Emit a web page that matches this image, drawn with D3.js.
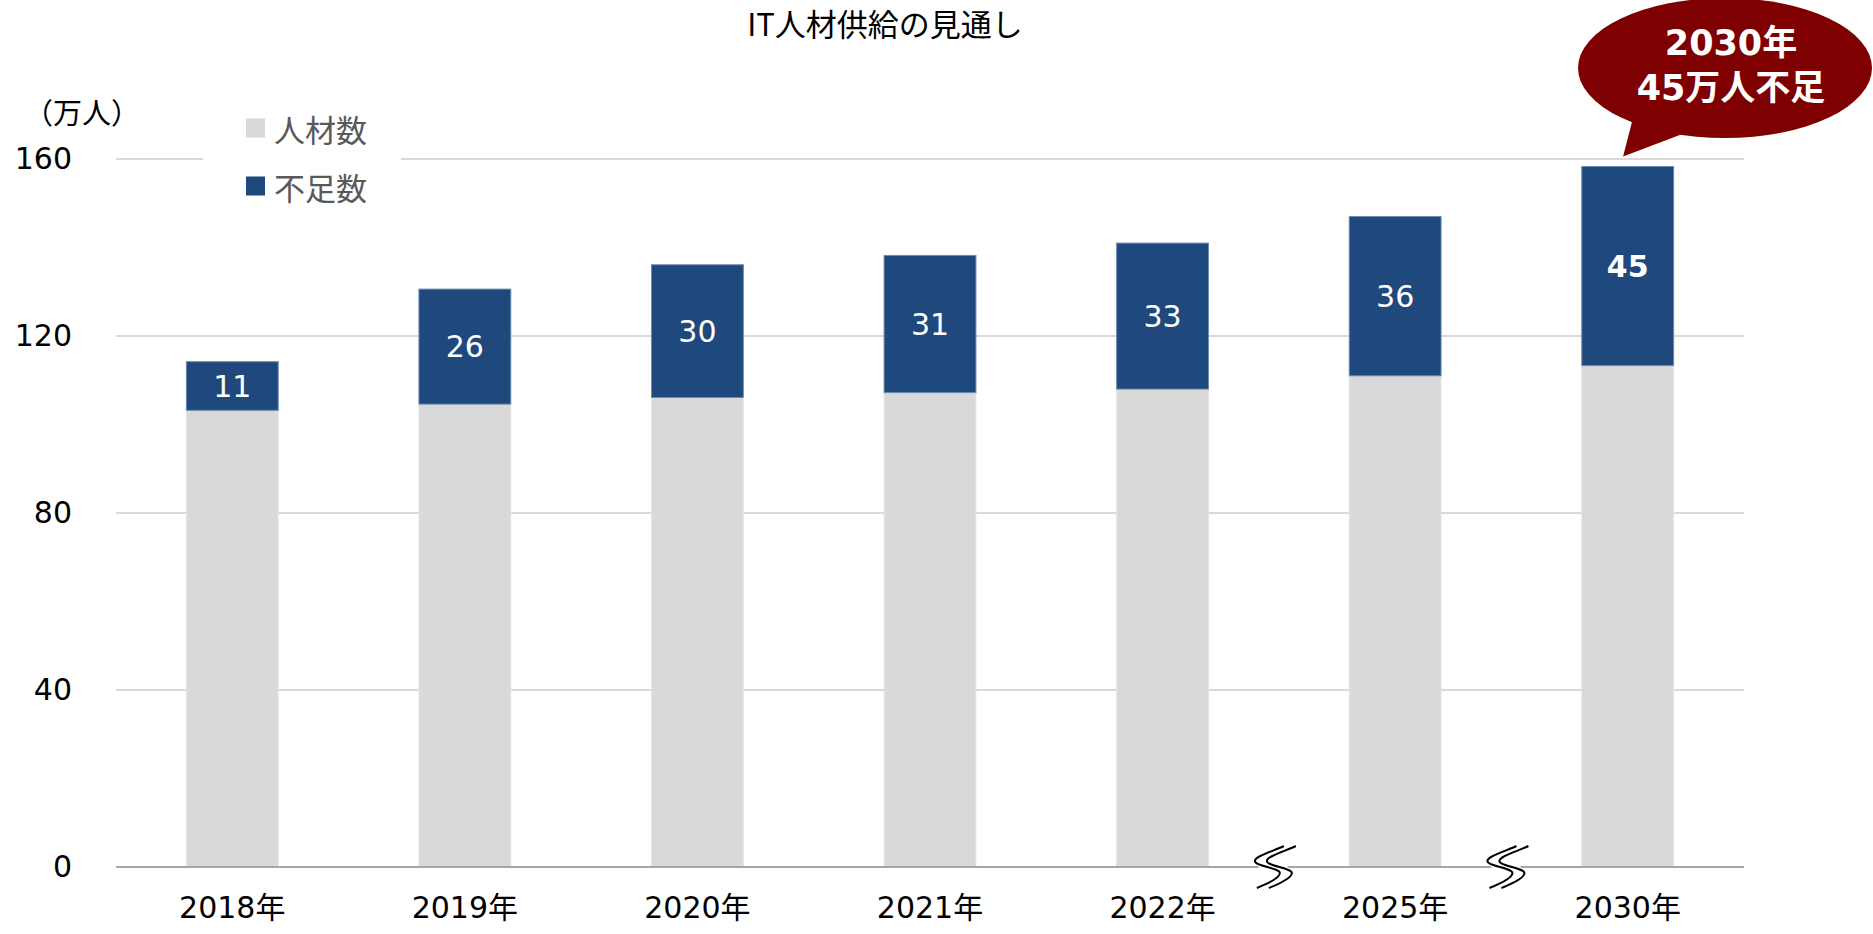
<!DOCTYPE html>
<html lang="ja">
<head>
<meta charset="utf-8">
<title>IT人材供給の見通し</title>
<script src="https://cdn.jsdelivr.net/npm/d3@7"></script>
<style>
  html, body { margin: 0; padding: 0; background: #fff; }
  svg { display: block; font-family: "DejaVu Sans", "Noto Sans CJK JP", sans-serif; }
</style>
</head>
<body>
<svg id="chart" width="1873" height="934"></svg>
<script>
// 年ごとのIT人材数と不足数（万人）
const years = ["2018年", "2019年", "2020年", "2021年", "2022年", "2025年", "2030年"];
const supply = [103.2, 104.6, 106.1, 107.2, 108.0, 111.0, 113.3];
const shortage = [11, 26, 30, 31, 33, 36, 45];
const yTicks = [0, 40, 80, 120, 160];
const seriesNames = ["人材数", "不足数"];
const breaksAfter = ["2022年", "2025年"];
const titleText = "IT人材供給の見通し";
const unitText = "（万人）";
const calloutLines = ["2030年", "45万人不足"];

const svg = d3.select("#chart");
const margin = { left: 116, right: 129, top: 159, bottom: 67 };
const W = 1873, H = 934;
const numFont = "'DejaVu Sans', 'Noto Sans CJK JP', sans-serif";
const jpFont = "'Noto Sans CJK JP', sans-serif";

const x = d3.scaleBand()
  .domain(years)
  .range([margin.left, W - margin.right])
  .paddingInner(0.605)
  .paddingOuter(0.3025);

const y = d3.scaleLinear()
  .domain([0, 160])
  .range([H - margin.bottom, margin.top]);

const colors = { supply: "#d9d9d9", shortage: "#1f497d" };

// グリッド線
svg.append("g")
  .selectAll("line")
  .data(yTicks.filter(d => d > 0))
  .join("line")
  .attr("x1", margin.left).attr("x2", W - margin.right)
  .attr("y1", d => y(d)).attr("y2", d => y(d))
  .attr("stroke", "#d9d9d9").attr("stroke-width", 2);

// Y軸ラベル
const yAxis = d3.axisLeft(y).tickValues(yTicks).tickSize(0).tickPadding(44);
svg.append("g")
  .attr("transform", `translate(${margin.left},0)`)
  .call(yAxis)
  .call(g => g.select(".domain").remove())
  .call(g => g.selectAll("text")
    .attr("font-size", 30).attr("fill", "#000")
    .attr("font-family", numFont));

// 積み上げ棒
const rows = years.map((yr, i) => ({ year: yr, supply: supply[i], shortage: shortage[i] }));
const stack = d3.stack().keys(["supply", "shortage"])(rows);

svg.append("g")
  .selectAll("g")
  .data(stack)
  .join("g")
  .attr("fill", d => colors[d.key])
  .attr("stroke", d => d.key === "shortage" ? "#6f8cb0" : "#e6e6e6")
  .attr("stroke-width", 1)
  .selectAll("rect")
  .data(d => d)
  .join("rect")
  .attr("x", d => x(d.data.year))
  .attr("width", x.bandwidth())
  .attr("y", d => y(d[1]))
  .attr("height", d => y(d[0]) - y(d[1]));

// X軸（基線）
svg.append("line")
  .attr("x1", margin.left).attr("x2", W - margin.right)
  .attr("y1", y(0)).attr("y2", y(0))
  .attr("stroke", "#a6a6a6").attr("stroke-width", 2);

const xAxis = d3.axisBottom(x).tickSize(0).tickPadding(30);
svg.append("g")
  .attr("transform", `translate(0,${y(0)})`)
  .call(xAxis)
  .call(g => g.select(".domain").remove())
  .call(g => g.selectAll("text")
    .attr("font-size", 30).attr("fill", "#000")
    .attr("font-family", numFont));

// 不足数ラベル
svg.append("g")
  .selectAll("text")
  .data(stack[1])
  .join("text")
  .attr("x", d => x(d.data.year) + x.bandwidth() / 2)
  .attr("y", d => (y(d[0]) + y(d[1])) / 2)
  .attr("text-anchor", "middle")
  .attr("dominant-baseline", "central")
  .attr("fill", "#fff")
  .attr("font-size", 30)
  .attr("font-weight", d => d.data.year === "2030年" ? 700 : 400)
  .text(d => d.data.shortage);

// 省略記号（波線）
const sPath = "M13,-21 C3,-16 -16,-11 -16,-6 C-16,-1 9,1 9,6 C9,11 -4,17 -14,21";
const breakG = svg.append("g")
  .selectAll("g")
  .data(breaksAfter)
  .join("g")
  .attr("transform", d => {
    const i = years.indexOf(d);
    const mid = (x(years[i]) + x.bandwidth() + x(years[i + 1])) / 2;
    return `translate(${mid - 8},${y(0)})`;
  });
breakG.append("path").attr("d", sPath)
  .attr("transform", "translate(6,0)")
  .attr("fill", "none").attr("stroke", "#fff").attr("stroke-width", 11);
breakG.append("path").attr("d", sPath)
  .attr("fill", "none").attr("stroke", "#000").attr("stroke-width", 2);
breakG.append("path").attr("d", sPath)
  .attr("transform", "translate(12,0)")
  .attr("fill", "none").attr("stroke", "#000").attr("stroke-width", 2);

// タイトル
svg.append("text")
  .attr("x", 885).attr("y", 36)
  .attr("text-anchor", "middle")
  .attr("font-family", jpFont)
  .attr("font-size", 31)
  .attr("fill", "#000")
  .text(titleText);

// 単位
svg.append("text")
  .attr("x", 24).attr("y", 124)
  .attr("font-family", jpFont)
  .attr("font-size", 29)
  .attr("fill", "#000")
  .text(unitText);

// 凡例
const legend = svg.append("g");
legend.append("rect")
  .attr("x", 203).attr("y", 100).attr("width", 198).attr("height", 110)
  .attr("fill", "#fff");
const legItems = legend.selectAll("g.item")
  .data(seriesNames)
  .join("g")
  .attr("class", "item")
  .attr("transform", (d, i) => `translate(246,${128 + i * 58})`);
legItems.append("rect")
  .attr("x", 0).attr("y", -9.5).attr("width", 19).attr("height", 19)
  .attr("fill", (d, i) => i === 0 ? colors.supply : colors.shortage);
legItems.append("text")
  .attr("x", 28).attr("y", 0)
  .attr("dominant-baseline", "central")
  .attr("font-family", jpFont)
  .attr("font-size", 31)
  .attr("fill", "#595959")
  .text(d => d);

// 吹き出し
const last = stack[1][stack[1].length - 1];
const tipX = x(last.data.year) + x.bandwidth() * 0.45;
const tipY = y(last[1]) - 10;
const callout = svg.append("g");
callout.append("path")
  .attr("d", `M1633,118 L${tipX},${tipY} L1685,133 Z`)
  .attr("fill", "#7f0000");
callout.append("ellipse")
  .attr("cx", 1725).attr("cy", 68).attr("rx", 147).attr("ry", 70)
  .attr("fill", "#7f0000");
callout.selectAll("text")
  .data(calloutLines)
  .join("text")
  .attr("x", 1731)
  .attr("y", (d, i) => 55 + i * 45)
  .attr("text-anchor", "middle")
  .attr("fill", "#fff").attr("font-weight", 700).attr("font-size", 35)
  .text(d => d);
</script>
</body>
</html>
